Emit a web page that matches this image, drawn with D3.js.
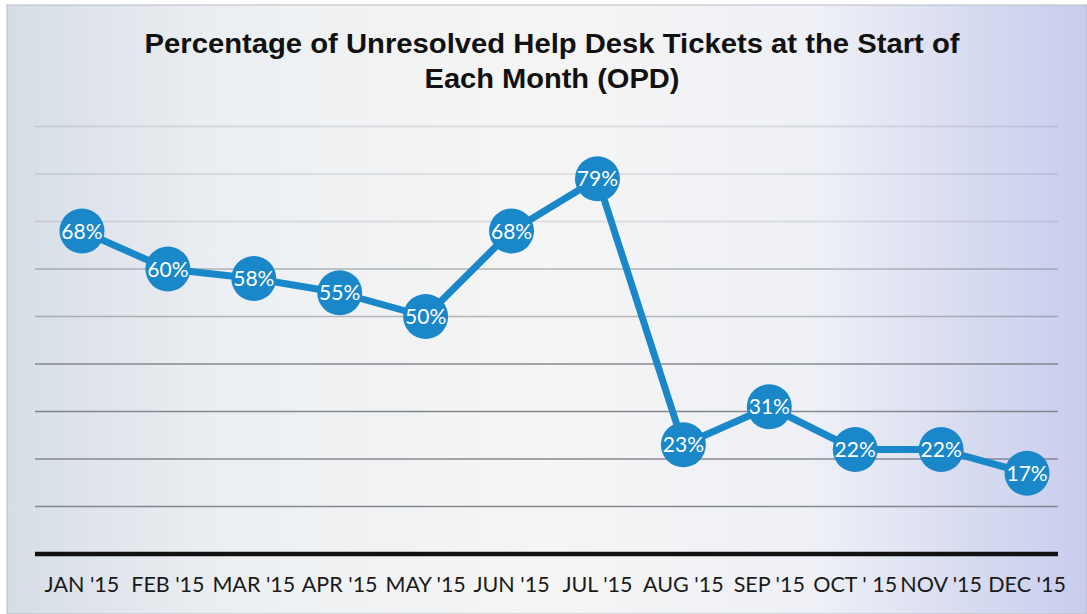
<!DOCTYPE html>
<html>
<head>
<meta charset="utf-8">
<script src="https://cdn.jsdelivr.net/npm/d3@7"></script>
<style>
html,body{margin:0;padding:0;background:#fff;}
svg{display:block;}
</style>
</head>
<body>
<svg id="chart" width="1087" height="614"></svg>
<script>
const months = ["JAN '15","FEB '15","MAR '15","APR '15","MAY '15","JUN '15","JUL '15","AUG '15","SEP '15","OCT ' 15","NOV '15","DEC '15"];
const values = [68,60,58,55,50,68,79,23,31,22,22,17];
const gridTicks = [10,20,30,40,50,60,70,80,90];
const titleLines = ["Percentage of Unresolved Help Desk Tickets at the Start of","Each Month (OPD)"];

const svg = d3.select("#chart");
const W = 1087, H = 614;

// background
const defs = svg.append("defs");
const bg = defs.append("linearGradient").attr("id","bg").attr("x1","0").attr("x2","1").attr("y1","0").attr("y2","0");
bg.append("stop").attr("offset","0").attr("stop-color","#d6dde6");
bg.append("stop").attr("offset","0.2").attr("stop-color","#eceff2");
bg.append("stop").attr("offset","0.5").attr("stop-color","#f5f5f4");
bg.append("stop").attr("offset","0.75").attr("stop-color","#eef0f6");
bg.append("stop").attr("offset","0.9").attr("stop-color","#d6daf0");
bg.append("stop").attr("offset","1").attr("stop-color","#c8cdee");
svg.append("rect").attr("x",7).attr("y",5).attr("width",W-7).attr("height",H-5)
  .attr("fill","url(#bg)").attr("stroke","#b8bcc4").attr("stroke-width",1);

const x = d3.scaleBand().domain(months).range([39,1070]);
const y = d3.scaleLinear().domain([0,90]).range([554,126.5]);
const X0 = 35, X1 = 1058;

// gridlines
svg.append("g").selectAll("line").data(gridTicks).join("line")
  .attr("x1",X0).attr("x2",X1)
  .attr("y1",d=>y(d)).attr("y2",d=>y(d))
  .attr("stroke","#74777e")
  .attr("stroke-width",1.3)
  .attr("stroke-opacity",d=> d<=40 ? 0.85 : (d<=60 ? 0.5 : 0.22));

// x axis
const xAxis = svg.append("g").attr("transform",`translate(0,${y(0)})`)
  .call(d3.axisBottom(x).tickSize(0).tickPadding(38));
xAxis.select(".domain").remove();
xAxis.append("line").attr("x1",X0).attr("x2",X1).attr("y1",0).attr("y2",0)
  .attr("stroke","#111").attr("stroke-width",4.5);
xAxis.selectAll(".tick text")
  .attr("font-family","Lato, 'Open Sans', sans-serif")
  .attr("font-size",21.5).attr("fill","#1a1a1a").attr("dy","0");

// title
svg.append("g").selectAll("text").data(titleLines).join("text")
  .attr("x",552).attr("y",(d,i)=>53+i*35)
  .attr("text-anchor","middle")
  .attr("font-family","'Liberation Sans', Arial, sans-serif")
  .attr("font-weight","bold").attr("font-size",27).attr("fill","#111")
  .attr("textLength",(d,i)=> i===0 ? 815 : 255)
  .attr("lengthAdjust","spacingAndGlyphs")
  .text(d=>d);

// line
const blue = "#1a87c9";
const pts = months.map((m,i)=>({m, v:values[i]}));
const line = d3.line().x(d=>x(d.m)+x.bandwidth()/2).y(d=>y(d.v));
svg.append("path").datum(pts).attr("d",line)
  .attr("fill","none").attr("stroke",blue).attr("stroke-width",7).attr("stroke-linejoin","round");

const g = svg.append("g").selectAll("g").data(pts).join("g")
  .attr("transform",d=>`translate(${x(d.m)+x.bandwidth()/2},${y(d.v)})`);
g.append("circle").attr("r",22.5).attr("fill",blue);
g.append("text").attr("text-anchor","middle").attr("dy","0.36em")
  .attr("font-family","Lato, 'Open Sans', sans-serif")
  .attr("font-size",21).attr("fill","#fff")
  .text(d=>d.v+"%");
</script>
</body>
</html>
